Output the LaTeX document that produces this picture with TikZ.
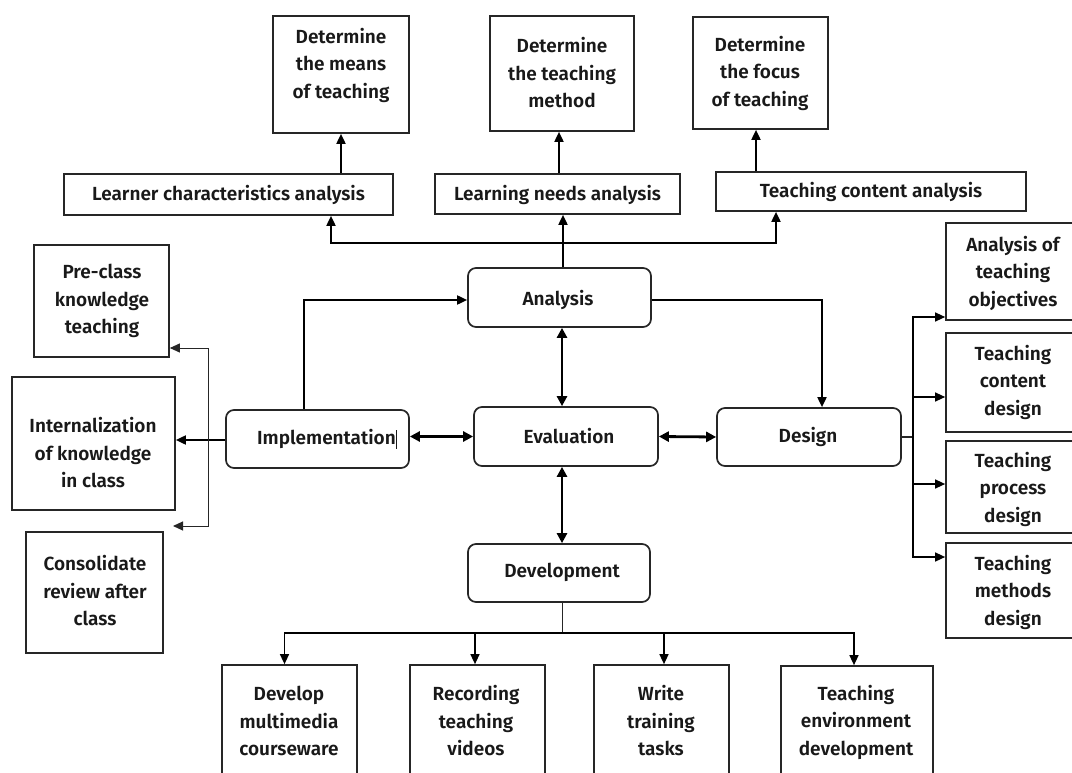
\documentclass[tikz,border=0pt]{standalone}
\usepackage{fontspec}
\setmainfont{Fira Sans}[BoldFont={Fira Sans SemiBold}]
\usetikzlibrary{arrows.meta}
\begin{document}
\begin{tikzpicture}[x=1pt,y=-1pt,
  box/.style={draw=black!85,line width=1.7pt,rectangle,inner sep=0pt},
  rbox/.style={box,rounded corners=8pt},
  lbl/.style={align=center,inner sep=0pt,text=black!90,font=\bfseries\fontsize{19}{27.5}\selectfont},
  arr/.style={draw=black,line width=1.8pt,-{Triangle[length=10pt,width=9pt]}},
  darr/.style={draw=black,line width=2.8pt,{Triangle[length=10pt,width=10pt]}-{Triangle[length=10pt,width=10pt]}},
  thinline/.style={draw=black!85,line width=1pt}]
\clip (0,0) rectangle (1072,773);
\useasboundingbox (0,0) rectangle (1072,773);
% top row
\node[box,minimum width=136pt,minimum height=117pt] (means) at (341,74.5) {};
\node[lbl] (means-t) at (341,65) {Determine\\the means\\of teaching};
\node[box,minimum width=144pt,minimum height=115pt] (method) at (562,73.5) {};
\node[lbl] (method-t) at (562,73) {Determine\\the teaching\\method};
\node[box,minimum width=135pt,minimum height=112pt] (focus) at (760.5,73) {};
\node[lbl] (focus-t) at (760,73) {Determine\\the focus\\of teaching};
% second row
\node[box,minimum width=329pt,minimum height=41pt] (learner) at (228.5,194.5) {};
\node[lbl] (learner-t) at (228.5,195) {Learner characteristics analysis};
\node[box,minimum width=245pt,minimum height=40pt] (needs) at (557.5,194) {};
\node[lbl] (needs-t) at (557.5,195) {Learning needs analysis};
\node[box,minimum width=310pt,minimum height=39pt] (content) at (871,191.5) {};
\node[lbl] (content-t) at (871,192) {Teaching content analysis};
% main rounded
\node[rbox,minimum width=183pt,minimum height=59pt] (analysis) at (559.5,297.5) {};
\node[lbl] (analysis-t) at (558,300) {Analysis};
\node[rbox,minimum width=184pt,minimum height=59pt] (eval) at (566,436.5) {};
\node[lbl] (eval-t) at (569,436) {Evaluation};
\node[rbox,minimum width=184pt,minimum height=58pt] (design) at (809,437) {};
\node[lbl] (design-t) at (808,437) {Design};
\node[rbox,minimum width=183pt,minimum height=58pt] (impl) at (317.5,439) {};
\node[lbl] (impl-t) at (327,439) {Implementation\hspace{0.5pt}\rule[-4pt]{0.6pt}{19pt}};
\node[rbox,minimum width=182pt,minimum height=58pt] (dev) at (559,573) {};
\node[lbl] (dev-t) at (562,572) {Development};
% right column
\node[box,minimum width=134pt,minimum height=97pt] (obj) at (1013,271.5) {};
\node[lbl] (obj-t) at (1013,273) {Analysis of\\teaching\\objectives};
\node[box,minimum width=134pt,minimum height=99pt] (tcd) at (1013,382.5) {};
\node[lbl] (tcd-t) at (1013,382) {Teaching\\content\\design};
\node[box,minimum width=134pt,minimum height=92pt] (tpd) at (1013,487) {};
\node[lbl] (tpd-t) at (1013,489) {Teaching\\process\\design};
\node[box,minimum width=134pt,minimum height=95pt] (tmd) at (1013,590.5) {};
\node[lbl] (tmd-t) at (1013,592) {Teaching\\methods\\design};
% left column
\node[box,minimum width=135pt,minimum height=112pt] (pre) at (101.5,301) {};
\node[lbl] (pre-t) at (102,301) {Pre-class\\knowledge\\teaching};
\node[box,minimum width=163pt,minimum height=133pt] (int) at (93.5,443.5) {};
\node[lbl] (int-t) at (93,453) {Internalization\\of knowledge\\in class};
\node[box,minimum width=137pt,minimum height=121pt] (con) at (94.5,592.5) {};
\node[lbl] (con-t) at (95,591) {Consolidate\\review after\\class};
% bottom row
\node[box,minimum width=135pt,minimum height=135pt] (b1) at (289.5,732.5) {};
\node[lbl] (b1-t) at (289,721) {Develop\\multimedia\\courseware};
\node[box,minimum width=135pt,minimum height=135pt] (b2) at (477.5,732.5) {};
\node[lbl] (b2-t) at (476,721) {Recording\\teaching\\videos};
\node[box,minimum width=135pt,minimum height=135pt] (b3) at (661.5,732.5) {};
\node[lbl] (b3-t) at (661,721) {Write\\training\\tasks};
\node[box,minimum width=152pt,minimum height=135pt] (b4) at (857,733.5) {};
\node[lbl] (b4-t) at (856,722) {Teaching\\environment\\development};
% connectors top
\draw[arr] (means.south |- learner.north) -- (means.south);
\draw[arr] ([xshift=-3pt]method.south |- needs.north) -- ([xshift=-3pt]method.south);
\draw[arr] ([xshift=-4.5pt]focus.south |- content.north) -- ([xshift=-4.5pt]focus.south);
\coordinate (j) at (563,243);
\draw[arr] ([xshift=3.5pt]analysis.north) -- ([xshift=3.5pt]analysis.north |- needs.south);
\draw[arr] (j) -| ([xshift=102.5pt]learner.south);
\draw[arr] (j) -| ([xshift=-95pt]content.south);
% analysis links
\draw[arr] ([xshift=-13.5pt]impl.north) |- ([yshift=-2.5pt]analysis.west);
\draw[arr] ([yshift=-2.5pt]analysis.east) -| ([xshift=13pt]design.north);
% evaluation double arrows
\draw[darr] ([xshift=2.5pt]analysis.south) -- ([xshift=2.5pt]analysis.south |- eval.north);
\draw[darr] (impl.east |- eval.west) -- (eval.west);
\draw[darr] (eval.east) -- (design.west);
\draw[darr] ([xshift=-4pt]eval.south) -- ([xshift=-4pt]eval.south |- dev.north);
% implementation branches
\draw[arr] ([yshift=-1pt]impl.west) -- ([yshift=-1pt]impl.west -| int.east);
\coordinate (cb) at (173,526);
\draw[thinline,{Triangle[length=10pt,width=9pt]}-{Triangle[length=10pt,width=9pt]}] (cb) -- ++(35,0) |- ([yshift=-47pt]pre.east);
% design branches
\coordinate (bus) at (913,437);
\draw[thinline,line width=1.4pt] (design.east) -- (bus);
\draw[arr,line width=1.4pt] (bus) |- ([yshift=-45.5pt]obj.west);
\draw[arr,line width=1.4pt] (bus) |- ([yshift=-14.5pt]tcd.west);
\draw[arr,line width=1.4pt] (bus) |- ([yshift=3pt]tpd.west);
\draw[arr,line width=1.4pt] (bus) |- ([yshift=33.5pt]tmd.west);
% development branches
\coordinate (dj) at (562,633);
\draw[thinline] ([xshift=3pt]dev.south) -- (dj);
\draw[arr,line width=1.4pt] (dj) -| ([xshift=-5pt]b1.north);
\draw[arr,line width=1.4pt] (dj) -| ([xshift=-2.5pt]b2.north);
\draw[arr,line width=1.4pt] (dj) -| ([xshift=2.5pt]b3.north);
\draw[arr,line width=1.4pt] (dj) -| ([xshift=-3pt]b4.north);
\end{tikzpicture}
\end{document}
